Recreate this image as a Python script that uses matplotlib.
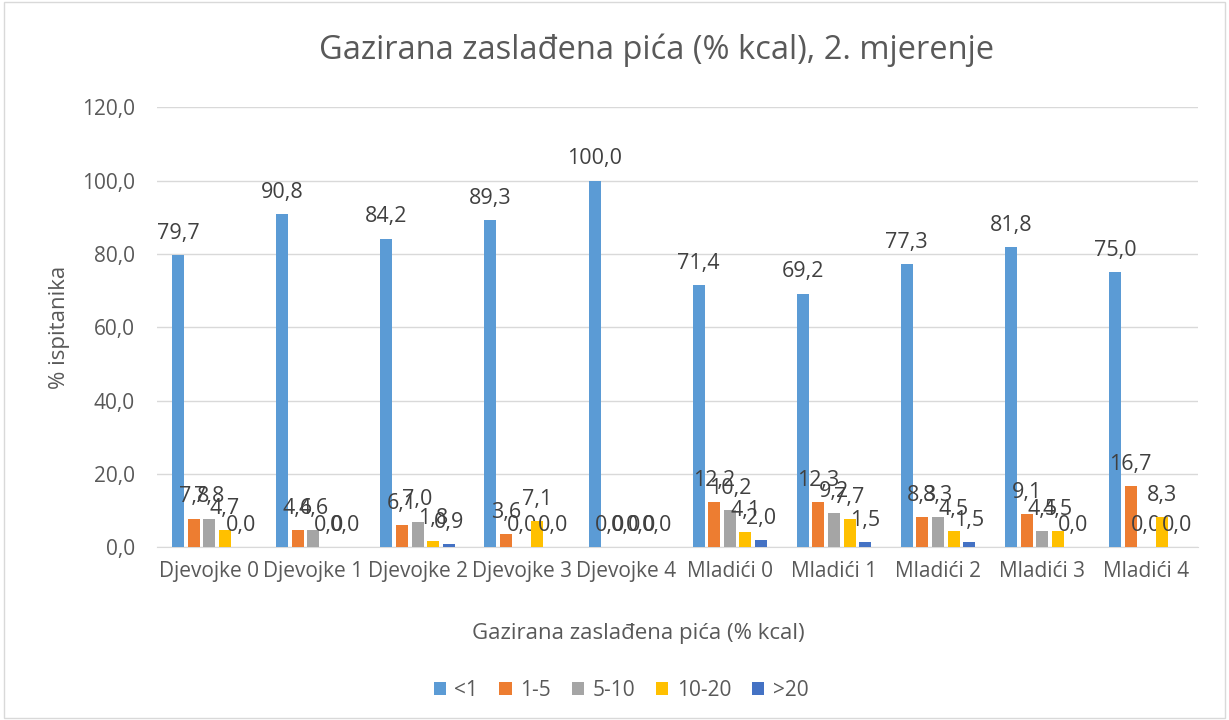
import matplotlib
matplotlib.use("Agg")
import matplotlib.pyplot as plt
import numpy as np
from matplotlib.patches import Rectangle

categories = ["Djevojke 0", "Djevojke 1", "Djevojke 2", "Djevojke 3", "Djevojke 4",
              "Mladići 0", "Mladići 1", "Mladići 2", "Mladići 3", "Mladići 4"]
series_names = ["<1", "1-5", "5-10", "10-20", ">20"]
s_lt1 = [79.7, 90.8, 84.2, 89.3, 100.0, 71.4, 69.2, 77.3, 81.8, 75.0]
s_1_5 = [7.8, 4.6, 6.1, 3.6, 0.0, 12.2, 12.3, 8.3, 9.1, 16.7]
s_5_10 = [7.8, 4.6, 7.0, 0.0, 0.0, 10.2, 9.2, 8.3, 4.5, 0.0]
s_10_20 = [4.7, 0.0, 1.8, 7.1, 0.0, 4.1, 7.7, 4.5, 4.5, 8.3]
s_gt20 = [0.0, 0.0, 0.9, 0.0, 0.0, 2.0, 1.5, 1.5, 0.0, 0.0]
series = [s_lt1, s_1_5, s_5_10, s_10_20, s_gt20]
colors = ["#5B9BD5", "#ED7D31", "#A5A5A5", "#FFC000", "#4472C4"]

txt = "#595959"
plt.rcParams['font.family'] = ['Open Sans', 'DejaVu Sans']

fig = plt.figure(figsize=(12.29, 7.2), dpi=100)
fig.patches.append(Rectangle((0.003, 0.003), 0.994, 0.994, transform=fig.transFigure,
                             fill=False, edgecolor="#D9D9D9", linewidth=1))
ax = fig.add_axes([0.128, 0.240, 0.847, 0.611])

x = np.arange(len(categories))
w = 0.115
step = 0.15
handles = []
for i, (vals, c, name) in enumerate(zip(series, colors, series_names)):
    off = (i - 2) * step
    bars = ax.bar(x + off, vals, width=w, color=c, label=name, zorder=3)
    handles.append(bars)
    ax.bar_label(bars, labels=[f"{v:.1f}".replace('.', ',') for v in vals],
                 padding=8, fontsize=15.5, color="#404040")

ax.set_xlim(-0.5, len(categories) - 0.5)
ax.set_ylim(0, 120)
ax.set_yticks(np.arange(0, 121, 20))
ax.set_yticklabels([f"{v:.1f}".replace('.', ',') for v in np.arange(0, 121, 20)])
ax.set_xticks(x)
ax.set_xticklabels(categories)
ax.tick_params(axis='both', length=0, labelsize=15, labelcolor=txt)
ax.tick_params(axis='y', pad=16)
ax.tick_params(axis='x', pad=10)
ax.grid(axis='y', color="#D9D9D9", linewidth=1, zorder=0)
for s in ["top", "right", "left"]:
    ax.spines[s].set_visible(False)
ax.spines["bottom"].set_color("#D9D9D9")

fig.text(657 / 1229, 1 - 50 / 720, "Gazirana zaslađena pića (% kcal), 2. mjerenje",
         fontsize=23.5, color=txt, ha="center", va="center")
fig.text(60 / 1229, 1 - 327 / 720, "% ispitanika", fontsize=16, color=txt,
         rotation=90, ha="center", va="center")
fig.text(638 / 1229, 1 - 633 / 720, "Gazirana zaslađena pića (% kcal)", fontsize=16,
         color=txt, ha="center", va="center")

fig.legend(handles=handles, labels=series_names, loc="center", bbox_to_anchor=(621 / 1229, 1 - 690 / 720),
           ncol=5, frameon=False, fontsize=15, labelcolor=txt, handlelength=0.6, handleheight=0.6,
           columnspacing=1.0, handletextpad=0.4)

fig.savefig("out.png", dpi=100, facecolor="white")
